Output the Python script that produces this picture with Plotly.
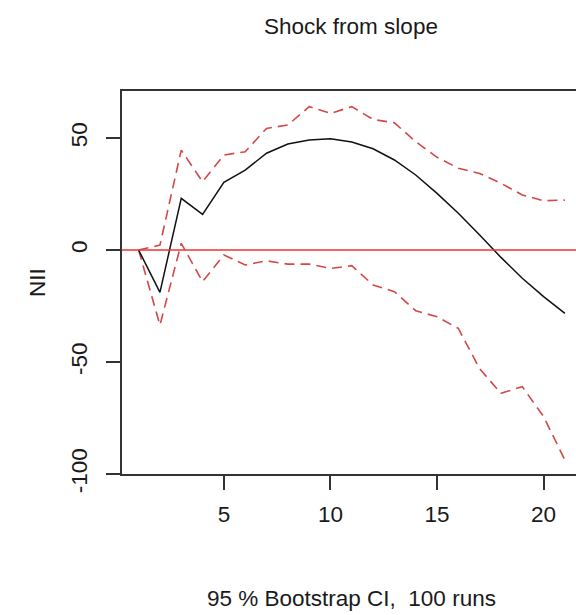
import plotly.graph_objects as go

horizon = list(range(1, 22))
irf = [0.0, -18.9, 23.1, 15.9, 30.2, 35.7, 43.2, 47.3, 49.1, 49.7, 48.2, 45.2, 40.2,
       33.5, 25.3, 16.4, 6.7, -3.3, -12.6, -20.8, -28.3]
upper = [0.0, 2.2, 44.6, 30.5, 42.4, 43.9, 54.3, 55.8, 64.0, 61.0, 64.0, 58.3, 56.8,
         48.4, 41.4, 36.5, 34.2, 29.8, 24.6, 22.0, 22.3]
lower = [0.0, -33.5, 3.0, -14.1, -2.2, -6.7, -4.8, -6.3, -6.3, -8.2, -7.0, -15.6, -18.6,
         -27.1, -29.8, -35.0, -53.0, -64.0, -61.0, -74.4, -93.8]
x_ticks = [5, 10, 15, 20]
y_ticks = [-100, -50, 0, 50]
y_tick_labels = ["-100", "-50", "0", "50"]

FONT = "Liberation Sans, Arial, Helvetica, sans-serif"
FS = 22.5
TXT = "#1a1a1a"
AX = "#333333"

fig = go.Figure()
fig.add_trace(go.Scatter(x=horizon, y=upper, mode="lines",
                         line=dict(color="#d44848", width=1.6, dash="10px,6px"),
                         showlegend=False, hoverinfo="skip"))
fig.add_trace(go.Scatter(x=horizon, y=lower, mode="lines",
                         line=dict(color="#d44848", width=1.6, dash="10px,6px"),
                         showlegend=False, hoverinfo="skip"))
fig.add_trace(go.Scatter(x=horizon, y=irf, mode="lines",
                         line=dict(color="#111111", width=1.5),
                         showlegend=False, hoverinfo="skip"))

fig.add_hline(y=0, line=dict(color="#ee3333", width=1.4))

fig.update_layout(
    width=576, height=615,
    margin=dict(l=122, r=0, t=91, b=141, pad=0),
    paper_bgcolor="white", plot_bgcolor="white",
    font=dict(family=FONT, size=FS, color=TXT),
    title=dict(text="Shock from slope", x=351/576, xref="container", xanchor="center",
               y=1 - 26/615, yref="container", yanchor="middle",
               font=dict(family=FONT, size=FS, color=TXT)),
    xaxis=dict(range=[0.22, 21.52], tickmode="array", tickvals=x_ticks,
               ticks="outside", ticklen=14, tickwidth=1.5, tickcolor=AX,
               showline=True, linecolor=AX, linewidth=1.5, mirror=True,
               showgrid=False, zeroline=False, ticklabelstandoff=5,
               tickfont=dict(family=FONT, size=FS, color=TXT)),
    yaxis=dict(range=[-100, 71], tickmode="array", tickvals=y_ticks, ticktext=y_tick_labels,
               ticks="outside", ticklen=14, tickwidth=1.5, tickcolor=AX,
               showline=True, linecolor=AX, linewidth=1.5, mirror=False,
               showgrid=False, zeroline=False, tickangle=-90, ticklabelstandoff=10,
               tickfont=dict(family=FONT, size=FS, color=TXT)),
    annotations=[
        dict(text="NII", textangle=-90, xref="paper", yref="paper",
             x=(37 - 122) / 454, y=(474 - 283) / 383, xanchor="center", yanchor="middle",
             showarrow=False, font=dict(family=FONT, size=FS, color=TXT)),
        dict(text="95 % Bootstrap CI,  100 runs", xref="paper", yref="paper",
             x=(351 - 122) / 454, y=(474 - 598) / 383, xanchor="center", yanchor="middle",
             showarrow=False, font=dict(family=FONT, size=FS, color=TXT)),
    ],
)

fig.write_html("out.html")
